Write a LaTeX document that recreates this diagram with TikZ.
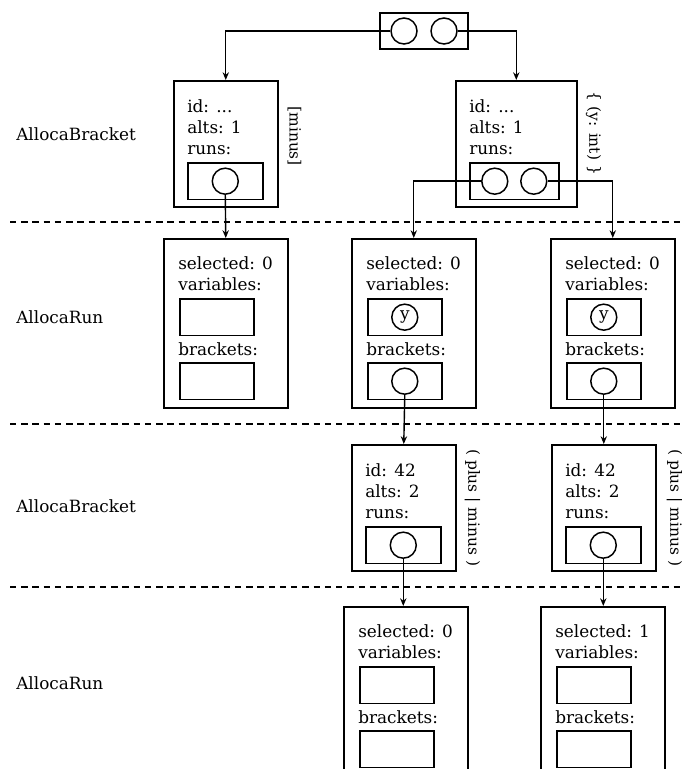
\documentclass[tikz,border=0pt]{standalone}
\usepackage{fontspec}
\setmainfont{DejaVu Serif}
\usetikzlibrary{arrows.meta,calc}
\tikzset{>={Stealth[length=5.5pt,width=4.5pt]},every node/.style={font=\fontsize{12}{14}\selectfont},
  obj/.style={draw,line width=1.1pt,inner sep=0},
  slot/.style={draw,line width=1.1pt,inner sep=0,minimum width=1.85cm,minimum height=.92cm},
  ref/.style={draw,circle,line width=1.05pt,inner sep=0,minimum size=.65cm},
  txt/.style={anchor=base west,inner sep=0},
  side/.style={rotate=-90,inner sep=0,font=\fontsize{11}{13}\selectfont},
  link/.style={line width=1pt,->},
  layer/.style={line width=.9pt,dash pattern=on 4.5pt off 3.5pt}}
% name, north west, id, alts, width, width of runs
\newcommand{\bracketbox}[6]{\node[obj,anchor=north west,minimum width=#5cm,minimum height=3.15cm] (#1) at (#2) {};
\node[txt] (#1-id) at ($(#1.north west)+(.35,-.8)$) {id: #3};
\node[txt] (#1-alts) at ($(#1.north west)+(.35,-1.33)$) {alts: #4};
\node[txt] (#1-runs) at ($(#1.north west)+(.35,-1.85)$) {runs:};
\node[slot,anchor=north west,minimum width=#6cm] (#1-r) at ($(#1.north west)+(.35,-2.05)$) {};}
% name, north west, selected
\newcommand{\runbox}[3]{\node[obj,anchor=north west,minimum width=3.1cm,minimum height=4.225cm] (#1) at (#2) {};
\node[txt] (#1-sel) at ($(#1.north west)+(.375,-.79)$) {selected: #3};
\node[txt] (#1-var) at ($(#1.north west)+(.375,-1.32)$) {variables:};
\node[slot,anchor=north west] (#1-v) at ($(#1.north west)+(.4,-1.5)$) {};
\node[txt] (#1-brk) at ($(#1.north west)+(.375,-2.925)$) {brackets:};
\node[slot,anchor=north west] (#1-b) at ($(#1.north west)+(.4,-3.1)$) {};}
\begin{document}
\begin{tikzpicture}
\useasboundingbox (0,0) rectangle (17.025,-19.225);
% layers
\draw[layer] (.25,-5.55)--(17.025,-5.55);
\draw[layer] (.25,-10.6)--(17.025,-10.6);
\draw[layer] (.25,-14.675)--(17.025,-14.675);
\node[txt] (l1) at (.4,-3.525) {AllocaBracket};
\node[txt] (l2) at (.4,-8.075) {AllocaRun};
\node[txt] (l3) at (.4,-12.8) {AllocaBracket};
\node[txt] (l4) at (.4,-17.225) {AllocaRun};
% root
\node[obj,minimum width=2.2cm,minimum height=.9cm] (top) at (10.6,-.775) {};
\node[ref] (top-a) at ($(top)+(-.5,0)$) {};\node[ref] (top-b) at ($(top)+(.5,0)$) {};
% first brackets
\bracketbox{b1}{4.325,-2}{...}{1}{2.6}{1.875}
\bracketbox{b2}{11.375,-2}{...}{1}{3.025}{2.225}
\node[ref] (b1-c) at (b1-r) {};
\node[ref] (b2-a) at ($(b2-r)+(-.4875,0)$) {};\node[ref] (b2-b) at ($(b2-r)+(.4875,0)$) {};
\node[side] (b1-lab) at ($(b1.east)+(.4,.19)$) {[minus]};
\node[side] (b2-lab) at ($(b2.east)+(.4,.26)$) {\{ (y: int) \}};
% runs
\runbox{r1}{4.075,-5.95}{0}
\runbox{r2}{8.775,-5.95}{0}
\runbox{r3}{13.75,-5.95}{0}
\node[ref] (r2-y) at (r2-v) {y};\node[ref] (r2-c) at (r2-b) {};
\node[ref] (r3-y) at (r3-v) {y};\node[ref] (r3-c) at (r3-b) {};
% second brackets
\bracketbox{k1}{8.775,-11.1}{42}{2}{2.6}{1.875}
\bracketbox{k2}{13.775,-11.1}{42}{2}{2.6}{1.875}
\node[ref] (k1-c) at (k1-r) {};\node[ref] (k2-c) at (k2-r) {};
\node[side] (k1-lab) at ($(k1.east)+(.4,0)$) {( plus | minus )};
\node[side] (k2-lab) at ($(k2.east)+(.45,0)$) {( plus | minus )};
\runbox{r4}{8.575,-15.15}{0}
\runbox{r5}{13.5,-15.15}{1}
% pointers
\draw[link] (top-a.west) -| (b1.north);
\draw[link] (top-b.east) -| (b2.north);
\draw[link] (b1-c.south) -- (r1.north);
\draw[link] (b2-a.west) -| (r2.north);
\draw[link] (b2-b.east) -| (r3.north);
\draw[link] (r2-c.south) -- (k1.north);
\draw[link] (r3-c.south) -- (k2.north);
\draw[link] (k1-c.south) -- (k1-c.south |- r4.north);
\draw[link] (k2-c.south) -- (k2-c.south |- r5.north);
\end{tikzpicture}
\end{document}
